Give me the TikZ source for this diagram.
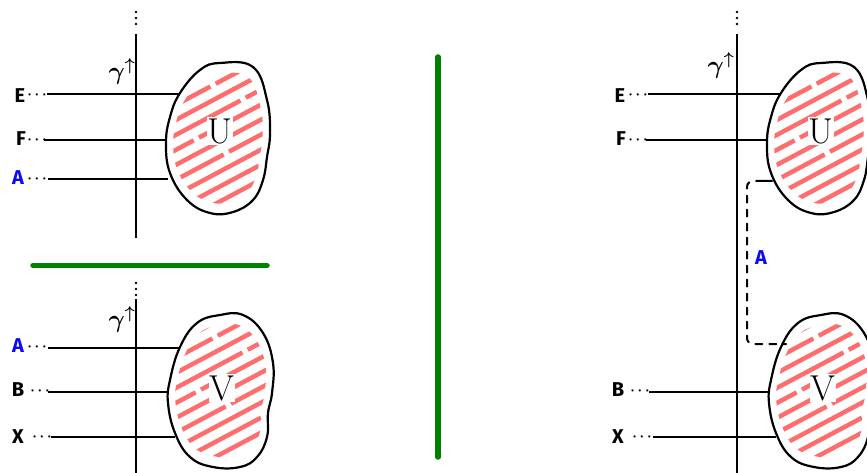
\documentclass[tikz,border=0pt]{standalone}
\usepackage{fontspec}
\newfontfamily\hand{Fira Sans}
\definecolor{hatchred}{RGB}{255,110,110}
\definecolor{lblue}{RGB}{10,10,245}
\definecolor{sepgreen}{RGB}{0,128,0}
\tikzset{
  wire/.style={line width=2pt, black},
  blobline/.style={line width=2.2pt, black},
  hatch/.style={line width=4.5pt, hatchred},
  lbl/.style={font=\hand\bfseries\fontsize{20}{20}\selectfont, inner sep=0pt},
  dotsn/.style={font=\boldmath\fontsize{14}{14}\selectfont, inner sep=0pt},
  gam/.style={font=\boldmath\fontsize{24}{24}\selectfont, inner sep=0pt},
  big/.style={font=\fontsize{36}{38}\selectfont, inner sep=1pt, fill=white},
  sep/.style={line width=5.5pt, sepgreen, line cap=round},
}
\newcommand{\vdotsat}[2]{\fill (#1,#2-6) circle (1.3pt) (#1,#2) circle (1.3pt) (#1,#2+6) circle (1.3pt);}
\newcommand{\ublob}{plot[smooth cycle, tension=0.7] coordinates {(2,-75) (35,-71) (49,-38) (52,-5) (49,19) (45,42) (35,62) (15,74) (-8,75) (-31,62) (-48,35) (-52,5) (-48,-21) (-38,-45) (-18,-68)}}
\newcommand{\vblob}{plot[smooth cycle, tension=0.7] coordinates {(0,-75) (23,-75) (43,-57) (53,-27) (52,3) (48,23) (47,47) (37,67) (20,77) (-7,77) (-30,67) (-45,43) (-52,13) (-50,-10) (-40,-43) (-23,-67)}}
\newcommand{\hatching}{%
  \foreach \c [count=\i] in {-130,-115,...,130} {
    \pgfmathsetmacro{\ph}{mod(\i*53,140)}
    \draw[hatch, dash pattern=on 120pt off 6pt on 140pt off 6pt, dash phase=\ph pt] (-80,\c+42) -- (80,\c-43);
  }}
\begin{document}
\begin{tikzpicture}[x=1pt,y=-1pt]
\useasboundingbox (0,0) rectangle (867,473);

% ---------------- top left panel ----------------
\vdotsat{136}{18}
\draw[wire] (136,34) -- (136,238);
\node[gam] (tg) at (122,71) {$\gamma^{\uparrow}$};
\begin{scope}[shift={(218,138)}]
  \begin{scope}
    \clip[scale=0.86] \ublob;
    \hatching
  \end{scope}
  \draw[blobline] \ublob;
\end{scope}
\node[big] (tU) at (220,131) {U};
\node[lbl] (tE) at (20,96) {E};
\node[dotsn] (tEd) at (37,95) {$\cdots$};
\node[lbl] (tF) at (21,139) {F};
\node[dotsn] (tFd) at (37,140) {$\cdots$};
\node[lbl, text=lblue] (tA) at (18,178) {A};
\node[dotsn] (tAd) at (37,179) {$\cdots$};
\coordinate (tE0) at (47,94);  \coordinate (tE1) at (180,94);
\coordinate (tF0) at (44,140); \coordinate (tF1) at (166,140);
\coordinate (tA0) at (48,179); \coordinate (tA1) at (168,179);
\draw[wire] (tE0) -- (tE1);
\draw[wire] (tF0) -- (tF1);
\draw[wire] (tA0) -- (tA1);

% ---------------- separators ----------------
\coordinate (h0) at (33,265.5); \coordinate (h1) at (267,265.5);
\draw[sep] (h0) -- (h1);
\coordinate (v0) at (438,57); \coordinate (v1) at (438,457);
\draw[sep] (v0) -- (v1);

% ---------------- bottom left panel ----------------
\vdotsat{136}{289}
\draw[wire] (136,299) -- (136,473);
\node[gam] (bg) at (122,319) {$\gamma^{\uparrow}$};
\begin{scope}[shift={(220,390)}]
  \begin{scope}
    \clip[scale=0.86] \vblob;
    \hatching
  \end{scope}
  \draw[blobline] \vblob;
\end{scope}
\node[big] (bV) at (222,388) {V};
\node[lbl, text=lblue] (bA) at (18,346) {A};
\node[dotsn] (bAd) at (37,347) {$\cdots$};
\node[lbl] (bB) at (18,390) {B};
\node[dotsn] (bBd) at (40,391) {$\cdots$};
\node[lbl] (bX) at (18,437) {X};
\node[dotsn] (bXd) at (42,437) {$\cdots$};
\coordinate (bA0) at (48,348); \coordinate (bA1) at (180,348);
\coordinate (bB0) at (48,392); \coordinate (bB1) at (168,392);
\coordinate (bX0) at (51,437); \coordinate (bX1) at (175,437);
\draw[wire] (bA0) -- (bA1);
\draw[wire] (bB0) -- (bB1);
\draw[wire] (bX0) -- (bX1);

% ---------------- right panel ----------------
\vdotsat{737}{18}
\draw[wire] (737,34) -- (737,473);
\node[gam] (rg) at (721,65) {$\gamma^{\uparrow}$};
\begin{scope}[shift={(819,138)}]
  \begin{scope}
    \clip[scale=0.86] \ublob;
    \hatching
  \end{scope}
  \draw[blobline] \ublob;
\end{scope}
\node[big] (rU) at (821,131) {U};
\begin{scope}[shift={(821,390)}]
  \begin{scope}
    \clip[scale=0.86] \vblob;
    \hatching
  \end{scope}
  \draw[blobline] \vblob;
\end{scope}
\node[big] (rV) at (823,388) {V};
\node[lbl] (rE) at (620,96) {E};
\node[dotsn] (rEd) at (638,95) {$\cdots$};
\node[lbl] (rF) at (621,139) {F};
\node[dotsn] (rFd) at (638,140) {$\cdots$};
\node[lbl] (rB) at (618,390) {B};
\node[dotsn] (rBd) at (640,391) {$\cdots$};
\node[lbl] (rX) at (618,437) {X};
\node[dotsn] (rXd) at (642,437) {$\cdots$};
\coordinate (rE0) at (648,94);  \coordinate (rE1) at (781,94);
\coordinate (rF0) at (646,140); \coordinate (rF1) at (767,140);
\coordinate (rB0) at (649,392); \coordinate (rB1) at (769,392);
\coordinate (rX0) at (653,437); \coordinate (rX1) at (776,437);
\draw[wire] (rE0) -- (rE1);
\draw[wire] (rF0) -- (rF1);
\draw[wire] (rB0) -- (rB1);
\draw[wire] (rX0) -- (rX1);
% A connection between U and V
\coordinate (ra0) at (772,181);
\coordinate (ra1) at (747,181);
\coordinate (ra2) at (747,344);
\coordinate (ra3) at (786,344);
\draw[wire, line cap=round, rounded corners=6pt, dash pattern=on 16pt off 7pt on 7pt off 7pt on 7pt off 7pt on 7pt off 7pt on 7pt off 7pt on 7pt off 7pt on 7pt off 7pt on 7pt off 7pt on 7pt off 7pt on 7pt off 7pt on 7pt off 7pt on 7pt off 7pt on 7pt off 7pt on 7pt off 7pt on 7pt off 7pt on 7pt off 7pt on 200pt]
  (ra0) -- (ra1) -- (ra2) -- (ra3);
\node[lbl, text=lblue] (rA) at (761,258) {A};
\end{tikzpicture}
\end{document}
